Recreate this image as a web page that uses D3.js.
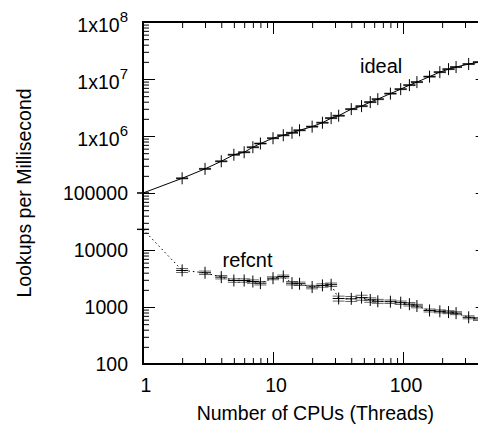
<!DOCTYPE html>
<html>
<head>
<meta charset="utf-8">
<script src="https://cdn.jsdelivr.net/npm/d3@7"></script>
<style>
  html, body { margin: 0; padding: 0; background: #fff; }
  svg { display: block; }
  text { font-family: "Liberation Sans", Arial, Helvetica, sans-serif; fill: #000; }
</style>
</head>
<body>
<svg id="chart" width="478" height="429"></svg>
<script>
// Thread counts used in the runs
const cpus = [1, 2, 3, 4, 5, 6, 7, 8, 10, 12, 14, 16, 20, 24, 28, 32, 40, 48, 56, 64,
              80, 96, 112, 128, 160, 192, 224, 256, 320, 384, 448];

// Lookups per millisecond, ideal (unsynchronized) run
const ideal = [1.0e5, 1.81e5, 2.65e5, 3.6e5, 4.69e5, 5.19e5, 6.35e5, 7.38e5, 9.14e5, 1.03e6,
               1.14e6, 1.26e6, 1.46e6, 1.71e6, 2.06e6, 2.27e6, 2.96e6, 3.34e6, 3.93e6, 4.43e6,
               5.54e6, 6.64e6, 7.81e6, 8.83e6, 1.10e7, 1.32e7, 1.49e7, 1.62e7, 1.83e7, 1.98e7, 2.1e7];
// Relative spread of the ideal runs (half-width of the error bar)
const idealErr = [0.01, 0.02, 0.02, 0.02, 0.02, 0.02, 0.02, 0.02, 0.02, 0.02,
                  0.02, 0.02, 0.02, 0.02, 0.02, 0.02, 0.02, 0.02, 0.02, 0.02,
                  0.02, 0.02, 0.02, 0.02, 0.02, 0.02, 0.02, 0.02, 0.02, 0.02, 0.02];

// Lookups per millisecond, reference-counted run
const refcnt = [23000, 4380, 3990, 3340, 2920, 2920, 2800, 2620, 3200, 3430,
                2620, 2560, 2240, 2390, 2460, 1410, 1390, 1460, 1330, 1260,
                1240, 1190, 1120, 1040, 870, 840, 813, 780, 660, 617, 590];
const refcntErr = [0.01, 0.08, 0.07, 0.07, 0.07, 0.07, 0.07, 0.07, 0.06, 0.06,
                   0.07, 0.07, 0.07, 0.07, 0.07, 0.10, 0.10, 0.10, 0.09, 0.08,
                   0.07, 0.07, 0.07, 0.07, 0.06, 0.06, 0.06, 0.06, 0.06, 0.06, 0.06];

// Axis ticks and labels
const xMajorTicks = [1, 10, 100];
const xTickLabels = ["1", "10", "100"];
const yMajorTicks = [100, 1000, 10000, 100000, 1e6, 1e7, 1e8];
const yTickLabels = [
  { base: "100" }, { base: "1000" }, { base: "10000" }, { base: "100000" },
  { base: "1x10", sup: "6" }, { base: "1x10", sup: "7" }, { base: "1x10", sup: "8" }
];
const seriesNames = ["ideal", "refcnt"];

const FONT = 19.5;
const svg = d3.select("#chart");
const L = 143, T = 22, B = 364;

const x = d3.scaleLog().domain([1, 448]).range([L, L + 130 * Math.log10(448)]);
const y = d3.scaleLog().domain([100, 1e8]).range([B, T]);
const R = x.range()[1];

const xMinor = x.ticks().filter(v => !xMajorTicks.includes(v));
const yMinor = y.ticks().filter(v => !yMajorTicks.includes(v));

function tickAxis(axis, transform, values, size) {
  const g = svg.append("g").attr("transform", transform)
    .call(axis.tickValues(values).tickSize(size).tickFormat(""));
  g.select(".domain").remove();
  g.selectAll(".tick line").attr("stroke", "#000").attr("stroke-width", 1);
  return g;
}

// inward ticks on all four sides
tickAxis(d3.axisBottom(x), `translate(0,${B})`, xMajorTicks, -12);
tickAxis(d3.axisBottom(x), `translate(0,${B})`, xMinor, -6);
tickAxis(d3.axisTop(x), `translate(0,${T})`, xMajorTicks, -12);
tickAxis(d3.axisTop(x), `translate(0,${T})`, xMinor, -6);
tickAxis(d3.axisLeft(y), `translate(${L},0)`, yMajorTicks, -12);
tickAxis(d3.axisLeft(y), `translate(${L},0)`, yMinor, -6);
tickAxis(d3.axisRight(y), `translate(${R},0)`, yMajorTicks, -12);
tickAxis(d3.axisRight(y), `translate(${R},0)`, yMinor, -6);

// frame
svg.append("rect")
  .attr("x", L).attr("y", T).attr("width", R - L).attr("height", B - T)
  .attr("fill", "none").attr("stroke", "#000").attr("stroke-width", 2);

// tick labels
svg.append("g").selectAll("text").data(xMajorTicks).join("text")
  .attr("x", d => x(d) + 3).attr("y", 392)
  .attr("text-anchor", "middle").attr("font-size", FONT)
  .text((d, i) => xTickLabels[i]);

const yl = svg.append("g").selectAll("text").data(yMajorTicks).join("text")
  .attr("x", 128)
  .attr("y", (d, i) => y(d) + (yTickLabels[i].sup ? 9.5 : 7))
  .attr("text-anchor", "end").attr("font-size", FONT);
yl.append("tspan").text((d, i) => yTickLabels[i].base);
yl.filter((d, i) => !!yTickLabels[i].sup).append("tspan")
  .attr("font-size", 15).attr("dy", -9.5)
  .text(d => yTickLabels[yMajorTicks.indexOf(d)].sup);

// axis titles
svg.append("text")
  .attr("x", (L + R) / 2).attr("y", 420)
  .attr("text-anchor", "middle").attr("font-size", FONT)
  .text("Number of CPUs (Threads)");
svg.append("text")
  .attr("transform", `translate(31,${(T + B) / 2}) rotate(-90)`)
  .attr("text-anchor", "middle").attr("font-size", FONT)
  .text("Lookups per Millisecond");

// series
function drawSeries(vals, errs, dash) {
  const pts = cpus.map((c, i) => ({ c, v: vals[i], e: errs[i] }));
  svg.append("path")
    .datum(pts)
    .attr("d", d3.line().x(d => x(d.c)).y(d => y(d.v)))
    .attr("fill", "none").attr("stroke", "#000").attr("stroke-width", 1)
    .attr("stroke-dasharray", dash);
  const g = svg.append("g").attr("stroke", "#000").attr("stroke-width", 1).attr("fill", "none");
  const p = g.selectAll("g").data(pts).join("g");
  // error bar
  p.append("path").attr("d", d => {
    const cx = x(d.c), lo = y(d.v * (1 - d.e)), hi = y(d.v * (1 + d.e));
    return `M${cx},${lo}V${hi}M${cx - 6},${lo}H${cx + 6}M${cx - 6},${hi}H${cx + 6}`;
  }).attr("stroke-opacity", 0.6);
  // point marker (+)
  p.append("path").attr("d", d => {
    const cx = x(d.c), cy = y(d.v);
    return `M${cx - 6},${cy}H${cx + 6}M${cx},${cy - 6}V${cy + 6}`;
  });
}
drawSeries(ideal, idealErr, null);
drawSeries(refcnt, refcntErr, "1.5,3");

// series labels
svg.append("text").attr("x", 360).attr("y", 73).attr("font-size", 20).text(seriesNames[0]);
svg.append("text").attr("x", 222.5).attr("y", 267).attr("font-size", 20).text(seriesNames[1]);
</script>
</body>
</html>
